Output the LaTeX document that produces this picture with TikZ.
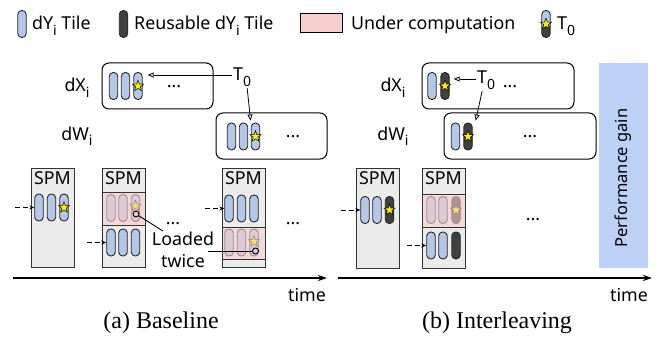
\documentclass[tikz,border=0pt]{standalone}
\usepackage{fontspec}
\setmainfont{Noto Sans}
\newfontfamily\capfont{Liberation Serif}
\usetikzlibrary{positioning,calc,arrows.meta,shapes.geometric}
\tikzset{>=stealth}
\definecolor{tileblue}{RGB}{180,199,231}
\definecolor{tiledark}{RGB}{64,64,64}
\definecolor{spmgray}{RGB}{235,235,235}
\definecolor{pinkc}{RGB}{248,205,205}
\definecolor{gainblue}{RGB}{189,208,246}
\newcommand{\lowsub}[1]{\raisebox{-0.6ex}{\fontsize{14}{14}\selectfont #1}}
\tikzset{
  tile/.style={draw=black!85,fill=tileblue,line width=0.9pt,rounded corners=4pt,minimum width=8.5pt,minimum height=27pt,inner sep=0pt},
  rtile/.style={tile,fill=tiledark},
  halftile/.style={tile,path picture={\fill[tiledark] (path picture bounding box.west) rectangle (path picture bounding box.south east);}},
  tstar/.style={star,star points=5,star point ratio=2.4,draw=black,fill=yellow,line width=0.5pt,minimum size=11.5pt,inner sep=0pt},
  grp/.style={draw,rounded corners=7pt,line width=1pt,minimum height=46pt,inner sep=0pt},
  spm/.style={draw=black!80,fill=spmgray,line width=1pt,minimum width=43pt,inner sep=0pt},
  busy/.style={draw=black!80,fill=pinkc,fill opacity=.6,line width=1pt,minimum width=43pt,inner sep=0pt},
  ring/.style={circle,draw,line width=0.9pt,minimum size=6pt,inner sep=0pt},
  tpoint/.style={-{Triangle[open,length=6pt,width=5pt]},line width=0.8pt},
  feed/.style={-{Stealth[length=5pt,width=4pt]},dash pattern=on 5pt off 3pt,line width=0.9pt},
  timeaxis/.style={-{Stealth[length=9pt,width=6pt]},line width=1.4pt},
}
\begin{document}
\begin{tikzpicture}[x=1pt,y=-1pt,inner sep=1pt,font=\fontsize{17.8}{22}\selectfont]
\useasboundingbox (0,0) rectangle (670,337);
% legend
\node[tile] (lg1) at (22,24) {};
\node[anchor=base west] (lgt1) at (31,30) {dY\lowsub{i} Tile};
\node[rtile] (lg2) at (123.5,24) {};
\node[anchor=base west] (lgt2) at (133,30) {Reusable dY\lowsub{i} Tile};
\node[draw,fill=pinkc,minimum width=42pt,minimum height=19pt,inner sep=0pt,line width=0.9pt] (lg3) at (321,22.5) {};
\node[anchor=base west] (lgt3) at (350,30) {Under computation};
\node[halftile] (lg4) at (546,24) {};
\node[tstar] at (lg4) {};
\node[anchor=base west] (lgt4) at (556,30) {T\lowsub{0}};

% (a) baseline
\node[anchor=base] (lxa) at (77,92) {dX\lowsub{i}};
\node[anchor=base] (lwa) at (77,140) {dW\lowsub{i}};
\node[grp,minimum width=111pt] (bxa) at (157.5,86) {};
\foreach \i/\x in {1/113.5,2/125.5,3/138} \node[tile] (xa\i) at (\x,86) {};
\node[tstar] at (xa3) {};
\node[anchor=base] at (174,88) {...};
\node[grp,minimum width=111pt] (bwa) at (271.5,136) {};
\foreach \i/\x in {1/231.5,2/243.5,3/255.5} \node[tile] (wa\i) at (\x,136.5) {};
\node[tstar] at (wa3) {};
\node[anchor=base] at (293,138) {...};
\node[anchor=base west] (T0a) at (232,81) {T\lowsub{0}};
\coordinate (hxa) at ($(xa3.east)+(5,-11)$);
\draw[tpoint] (hxa -| T0a.west) -- (hxa);
\draw[tpoint,shorten >=2pt] ([xshift=5pt]T0a.south) -- (wa3.north west);

\node[spm,minimum height=99pt] (sa1) at (52.5,217.5) {};
\node[anchor=base] at ([yshift=-17pt]sa1.north) {SPM};
\foreach \i/\x in {1/39,2/51.5,3/64} \node[tile] (ta1\i) at (\x,207.5) {};
\node[tstar] at (ta13) {};
\coordinate (fa1) at ([xshift=-19pt]ta11.west);
\draw[feed] (fa1) -- (ta11.west);

\node[spm,minimum height=99pt] (sa2) at (123.5,217.5) {};
\node[anchor=base] at ([yshift=-17pt]sa2.north) {SPM};
\foreach \i/\x in {1/111,2/123,3/135.5} \node[tile] (ua2\i) at (\x,208) {};
\node[tstar] at ([yshift=2pt]ua23) {};
\node[busy,minimum height=33pt] (pa2) at (123.5,208.5) {};
\node[ring] (ca2) at (136,214) {};
\foreach \i/\x in {1/111,2/123,3/135.5} \node[tile] (ta2\i) at (\x,242.5) {};
\coordinate (fa2) at ([xshift=-19pt]ta21.west);
\draw[feed] (fa2) -- (ta21.west);

\node[spm,minimum height=99pt] (sa3) at (243.5,217.5) {};
\node[anchor=base] at ([yshift=-17pt]sa3.north) {SPM};
\foreach \i/\x in {1/229,2/241.5,3/254} \node[tile] (ta3\i) at (\x,208.5) {};
\coordinate (fa3) at ([xshift=-19pt]ta31.west);
\draw[feed] (fa3) -- (ta31.west);
\foreach \i/\x in {1/229,2/241.5,3/254} \node[tile] (ua3\i) at (\x,242.5) {};
\node[tstar] at ([yshift=1pt]ua33) {};
\node[busy,minimum height=32pt] (pa3) at (243.5,243) {};
\node[ring] (ca3) at (255.5,251) {};

\node[align=center] (loaded) at (183,250) {Loaded\\twice};
\draw[line width=0.9pt] (ca2) -- ($(loaded.north west)+(12,0)$);
\coordinate (lt) at ([xshift=-7pt]loaded.east);
\draw[line width=0.9pt] (ca3) -- (ca3 -| lt);
\node[anchor=base] at (173,224) {...};
\node[anchor=base] at (293,224) {...};

\coordinate (ta0) at (13,278);
\coordinate (ta9) at (327,278);
\draw[timeaxis] (ta0) -- (ta9);
\node[anchor=base] at (307,301) {time};
\node[anchor=base,font=\capfont\fontsize{24}{24}\selectfont] at (161,328) {(a) Baseline};

% (b) interleaving
\node[anchor=base] (lxb) at (393,92) {dX\lowsub{i}};
\node[anchor=base] (lwb) at (393,140) {dW\lowsub{i}};
\node[grp,minimum width=152pt] (bxb) at (498,86) {};
\node[tile] (xb1) at (432,86) {};
\node[rtile] (xb2) at (445,86) {};
\node[tstar] at (xb2) {};
\node[anchor=base] at (510,88) {...};
\node[grp,minimum width=152pt] (bwb) at (520,136) {};
\node[tile] (wb1) at (455.5,136.5) {};
\node[rtile] (wb2) at (468,136.5) {};
\node[tstar] at (wb2) {};
\node[anchor=base] at (530,138) {...};
\node[anchor=base west] (T0b) at (476,84) {T\lowsub{0}};
\coordinate (hxb) at ($(xb2.east)+(4,-7)$);
\draw[tpoint] (hxb -| T0b.west) -- (hxb);
\coordinate (hwb) at ($(wb2.north east)+(3,-2)$);
\draw[tpoint] ([xshift=-4pt]T0b.south) -- (hwb);

\node[spm,minimum height=100pt] (sb1) at (377.5,218) {};
\node[anchor=base] at ([yshift=-17pt]sb1.north) {SPM};
\node[tile] (tb11) at (365,210) {};
\node[tile] (tb12) at (377,210) {};
\node[rtile] (tb13) at (389.5,210) {};
\node[tstar] at (tb13) {};
\coordinate (fb1) at ([xshift=-19pt]tb11.west);
\draw[feed] (fb1) -- (tb11.west);

\node[spm,minimum height=100pt] (sb2) at (443.5,218) {};
\node[anchor=base] at ([yshift=-17pt]sb2.north) {SPM};
\node[tile] (ub21) at (431,210) {};
\node[tile] (ub22) at (443,210) {};
\node[rtile] (ub23) at (456,210) {};
\node[tstar] at (ub23) {};
\node[busy,minimum height=33pt] (pb2) at (443.5,210.5) {};
\node[tile] (tb21) at (431,245.5) {};
\node[tile] (tb22) at (443,245.5) {};
\node[rtile] (tb23) at (456,245.5) {};
\coordinate (fb2) at ([xshift=-19pt]tb21.west);
\draw[feed] (fb2) -- (tb21.west);
\node[anchor=base] at (533,220) {...};

\node[fill=gainblue,minimum width=49pt,minimum height=205pt,inner sep=0pt] (gain) at (623.5,165.5) {};
\node[rotate=90,font=\fontsize{16.5}{20}\selectfont] at (623,178) {Performance gain};

\coordinate (tb0) at (338,278);
\coordinate (tb9) at (652,278);
\draw[timeaxis] (tb0) -- (tb9);
\node[anchor=base] at (629,301) {time};
\node[anchor=base,font=\capfont\fontsize{24}{24}\selectfont] at (497,328) {(b) Interleaving};
\end{tikzpicture}
\end{document}
